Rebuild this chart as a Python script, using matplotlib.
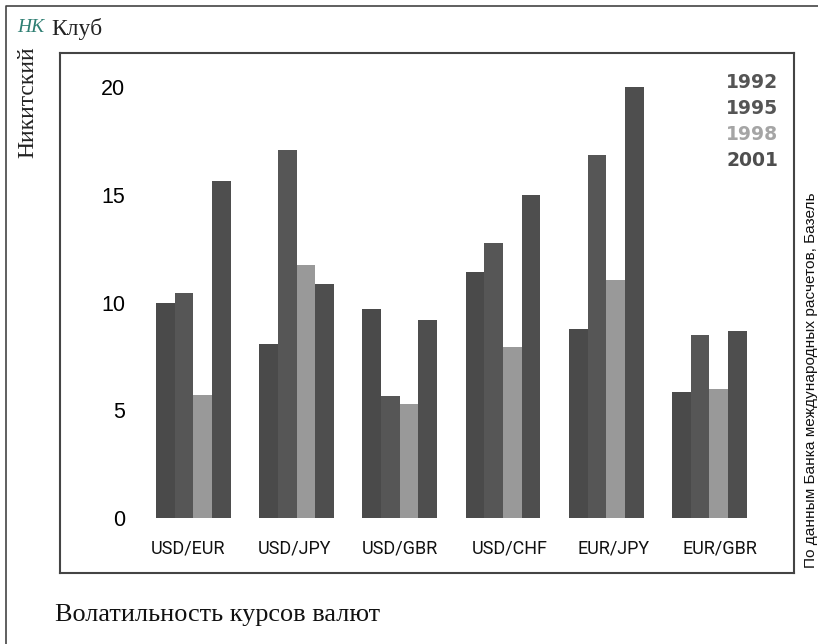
import numpy as np
import matplotlib.pyplot as plt

# данные
pairs = ['USD/EUR', 'USD/JPY', 'USD/GBR', 'USD/CHF', 'EUR/JPY', 'EUR/GBR']
years = ['1992', '1995', '1998', '2001']
v1992 = [10.0, 8.07, 9.7, 11.4, 8.77, 5.85]
v1995 = [10.45, 17.07, 5.66, 12.76, 16.84, 8.49]
v1998 = [5.7, 11.74, 5.29, 7.93, 11.04, 5.99]
v2001 = [15.65, 10.86, 9.19, 15.0, 20.0, 8.68]
yticks = [0, 5, 10, 15, 20]

colors = ['#4a4a4a', '#565656', '#999999', '#4e4e4e']
legend_colors = ['#555555', '#555555', '#a5a5a5', '#4e4e4e']
W, H = 818, 644

fig = plt.figure(figsize=(W / 100, H / 100), dpi=100)
ax = fig.add_axes([59.5 / W, 1 - 573 / H, (794 - 59.5) / W, (573 - 53) / H])

x = np.arange(len(pairs))
width = 0.181
for i, vals in enumerate([v1992, v1995, v1998, v2001]):
    ax.bar(x + (i - 1.5) * width, vals, width, color=colors[i])

ax.set_xlim(-1.298, 5.82)
ax.set_ylim(-2.55, 21.58)
for s in ax.spines.values():
    s.set_linewidth(1.5)
    s.set_color('#444444')

# подписи осей внутри рамки
ax.set_yticks(yticks)
ax.set_yticklabels([str(t) for t in yticks], family='Liberation Sans', fontsize=15.5)
ax.tick_params(axis='y', length=0, pad=-47.5)
# подписи стоят не точно по центру групп
label_shift = np.array([-5, -2.5, 0.5, 6.5, 7.5, 10.5]) / 103.2
ax.set_xticks(x + label_shift)
ax.set_xticklabels(pairs, family='Roboto', fontsize=13, color='#111111')
ax.tick_params(axis='x', length=0, pad=-13.7)
for lab in ax.get_xticklabels():
    lab.set_va('baseline')

# легенда
for y, year, c in zip([83, 109, 135, 161], years, legend_colors):
    fig.text(778 / W, 1 - y / H, year, color=c, ha='right', va='center',
             family='DejaVu Sans', fontsize=13.5, fontweight='bold')

# внешняя рамка
fig.add_artist(plt.Line2D([6 / W, 6 / W, 1], [0, 1 - 6 / H, 1 - 6 / H], color='#444444', lw=1.2))

# заголовки
fig.text(17 / W, 1 - 28 / H, 'НК', color='#2f7f73', ha='left', va='center',
         family='Liberation Serif', style='italic', fontsize=14)
fig.text(51 / W, 1 - 29 / H, 'Клуб', color='#222222', ha='left', va='center',
         family='Liberation Serif', fontsize=17)
fig.text(28 / W, 1 - 102 / H, 'Никитский', color='#222222', rotation=90, ha='center', va='center',
         family='Liberation Serif', fontsize=17)
fig.text(55 / W, 1 - 615 / H, 'Волатильность курсов валют', color='#111111', ha='left', va='center',
         family='Liberation Serif', fontsize=18.9)
fig.text(811 / W, 1 - 380 / H, 'По данным Банка международных расчетов, Базель', color='#111111',
         rotation=90, ha='center', va='center', family='Liberation Sans', fontsize=11.1)

fig.savefig('out.png', dpi=100)
